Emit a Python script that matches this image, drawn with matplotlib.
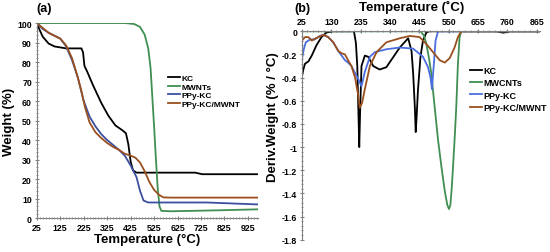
import matplotlib
matplotlib.use("Agg")
import matplotlib.pyplot as plt
from matplotlib.ticker import MultipleLocator

plt.rcParams["font.family"] = ["Liberation Sans", "DejaVu Sans"]
plt.rcParams["font.weight"] = "bold"

# ---- (a) TGA curves: temperature (C) vs weight (%) ----
kc_t = [25, 35, 50, 75, 100, 150, 215, 222, 228, 240, 265, 300, 330, 360, 390, 405, 415, 425, 435, 450, 700, 730, 968]
kc_w = [100, 97, 93, 89.5, 88, 87, 87, 85, 78, 75, 68, 59, 52.5, 47.5, 45, 43.5, 38, 29, 24.5, 23.3, 23.3, 22.5, 22.5]

mwnt_t = [25, 400, 440, 465, 485, 500, 510, 517, 525, 533, 540, 548, 556, 600, 800, 968]
mwnt_w = [100, 100, 99.5, 98, 94, 87, 77, 63, 47, 30, 16, 6, 3.7, 3.5, 4, 4.5]

ppy_t = [25, 50, 75, 100, 125, 150, 175, 200, 225, 250, 275, 300, 325, 350, 375, 400, 425, 450, 465, 480, 500, 750, 968]
ppy_w = [100, 97, 95, 93.5, 92, 88, 81, 72, 60, 52, 47, 43, 40, 37.5, 35, 32, 27, 21, 14, 9, 8, 8, 7]

ppym_t = [25, 50, 75, 100, 125, 150, 175, 200, 215, 230, 250, 275, 300, 325, 350, 375, 400, 425, 445, 465, 485, 505, 525, 545, 565, 600, 968]
ppym_w = [100, 97.5, 95, 93.5, 92, 88.5, 82, 72, 65, 57, 49, 44, 41, 38.5, 36.5, 35, 33, 32, 31, 28.5, 24, 18.5, 14.5, 12, 10.6, 10.5, 10.5]

# ---- (b) DTG curves: temperature (C) vs deriv. weight (%/C) ----
kc_dt = [25, 30, 36, 48, 60, 77, 95, 113, 136, 211, 218, 223, 227, 230, 233, 238, 250, 262, 280, 303, 327, 351,
         375, 405, 417, 423, 429, 432, 435, 440, 449, 458, 470, 480, 720, 745, 770, 877]
kc_d = [-0.39, -0.33, -0.28, -0.26, -0.21, -0.12, -0.05, -0.01, 0, 0, -0.1, -0.3, -0.7, -1.0, -0.7, -0.30, -0.21, -0.22, -0.30, -0.33, -0.31, -0.225,
        -0.14, -0.06, -0.17, -0.37, -0.66, -0.87, -0.75, -0.51, -0.22, -0.08, -0.01, 0, 0, -0.012, 0, 0]

mwcnt_dt = [25, 450, 462, 470, 480, 488, 500, 512, 524, 536, 545, 551, 556, 561, 566, 571, 577, 583, 589, 595, 877]
mwcnt_d = [0, 0, -0.04, -0.11, -0.24, -0.37, -0.66, -0.94, -1.17, -1.38, -1.5, -1.535, -1.5, -1.35, -1.15, -0.94, -0.66, -0.28, -0.05, 0, 0]

ppy_dt = [25, 32, 39, 54, 71, 89, 101, 119, 137, 155, 167, 179, 190, 202, 215, 226, 238, 250, 268, 286, 327, 375,
          423, 458, 476, 485, 490, 497, 503, 512, 877]
ppy_d = [-0.24, -0.15, -0.095, -0.07, -0.07, -0.04, -0.03, -0.05, -0.095, -0.17, -0.21, -0.25, -0.27, -0.30, -0.36, -0.41, -0.475, -0.35, -0.22, -0.18, -0.155, -0.14,
         -0.15, -0.22, -0.31, -0.40, -0.50, -0.28, -0.08, 0, 0]

ppym_dt = [25, 36, 48, 60, 75, 101, 119, 137, 155, 167, 179, 190, 202, 215, 226, 232, 240, 250, 268, 292, 327, 375,
           411, 446, 470, 494, 518, 536, 554, 571, 583, 595, 877]
ppym_d = [-0.08, -0.05, -0.05, -0.08, -0.06, -0.03, -0.05, -0.095, -0.17, -0.19, -0.2, -0.25, -0.30, -0.40, -0.55, -0.66, -0.62, -0.50, -0.30, -0.18, -0.095, -0.06,
          -0.04, -0.05, -0.11, -0.18, -0.25, -0.27, -0.23, -0.14, -0.05, 0, 0]

a_xticks = [25, 125, 225, 325, 425, 525, 625, 725, 825, 925]
a_yticks = [0, 10, 20, 30, 40, 50, 60, 70, 80, 90, 100]
b_xticks = [25, 130, 235, 340, 445, 550, 655, 760, 865]
b_yticks = [-1.8, -1.6, -1.4, -1.2, -1.0, -0.8, -0.6, -0.4, -0.2, 0]
b_ylabels = ["-1.8", "-1.6", "-1.4", "-1.2", "-1", "-0.8", "-0.6", "-0.4", "-0.2", "0"]

BLACK = "#000000"
GREEN = "#3f8f52"
BLUE_A = "#3b4f9e"
BLUE_B = "#4a6ee0"
BROWN = "#9a4f1e"
AXIS = "#808080"

fig = plt.figure(figsize=(5.5, 2.53), dpi=100)


def style_axis(a, spines):
    for s in ("left", "right", "top", "bottom"):
        if s in spines:
            a.spines[s].set_color(AXIS)
            a.spines[s].set_linewidth(0.8)
        else:
            a.spines[s].set_visible(False)
    a.tick_params(which="both", direction="inout", color=AXIS, labelsize=6.3, pad=2)
    a.tick_params(which="major", length=3)
    a.tick_params(which="minor", length=2)


# ---------------- panel (a) ----------------
ax = fig.add_axes([0.067, 0.134, 0.402, 0.771])
ax.plot(kc_t, kc_w, color=BLACK, lw=1.3, label="KC")
ax.plot(mwnt_t, mwnt_w, color=GREEN, lw=1.3, label="MWNTs")
ax.plot(ppy_t, ppy_w, color=BLUE_A, lw=1.3, label="PPy-KC")
ax.plot(ppym_t, ppym_w, color=BROWN, lw=1.3, label="PPy-KC/MWNT")
ax.set_xlim(25, 968)
ax.set_ylim(0, 100)
ax.set_xticks(a_xticks)
ax.set_yticks(a_yticks)
ax.xaxis.set_minor_locator(MultipleLocator(12.5))
ax.yaxis.set_minor_locator(MultipleLocator(2))
style_axis(ax, ("left", "bottom"))
ax.set_xlabel("Temperature (°C)", fontsize=9.5, fontweight="bold", labelpad=1)
ax.set_ylabel("Weight (%)", fontsize=9.5, fontweight="bold", labelpad=2)
ax.legend(loc="upper left", bbox_to_anchor=(0.298, 0.72), bbox_transform=fig.transFigure,
          frameon=False, handlelength=1.4, handletextpad=0.2,
          labelspacing=0.1, borderpad=0, prop={"weight": "bold", "size": 6})
fig.text(0.066, 0.965, "(a)", fontsize=9, fontweight="bold", va="center", ha="left")

# ---------------- panel (b) ----------------
bx = fig.add_axes([0.549, 0.0486, 0.433, 0.8237])
bx.plot(kc_dt, kc_d, color=BLACK, lw=1.3, label="KC")
bx.plot(mwcnt_dt, mwcnt_d, color=GREEN, lw=1.3, label="MWCNTs")
bx.plot(ppy_dt, ppy_d, color=BLUE_B, lw=1.3, label="PPy-KC")
bx.plot(ppym_dt, ppym_d, color=BROWN, lw=1.3, label="PPy-KC/MWNT")
bx.set_xlim(25, 877)
bx.set_ylim(-1.8, 0)
bx.set_xticks(b_xticks)
bx.set_yticks(b_yticks, b_ylabels)
bx.xaxis.set_minor_locator(MultipleLocator(21))
bx.yaxis.set_minor_locator(MultipleLocator(0.04))
bx.xaxis.tick_top()
style_axis(bx, ("left", "top"))
bx.legend(loc="upper left", bbox_to_anchor=(0.846, 0.752), bbox_transform=fig.transFigure,
          frameon=False, handlelength=1.3, handletextpad=0.2,
          labelspacing=0.35, borderpad=0, prop={"weight": "bold", "size": 6.5})
fig.text(0.749, 0.972, "Temperature (˚C)", fontsize=9.5, fontweight="bold", ha="center", va="center")
fig.text(0.497, 0.538, "Deriv.Weight (% / °C)", fontsize=9.5, fontweight="bold",
         rotation=90, ha="center", va="center")
fig.text(0.535, 0.965, "(b)", fontsize=9, fontweight="bold", va="center", ha="left")

fig.savefig("out.png", dpi=100)
